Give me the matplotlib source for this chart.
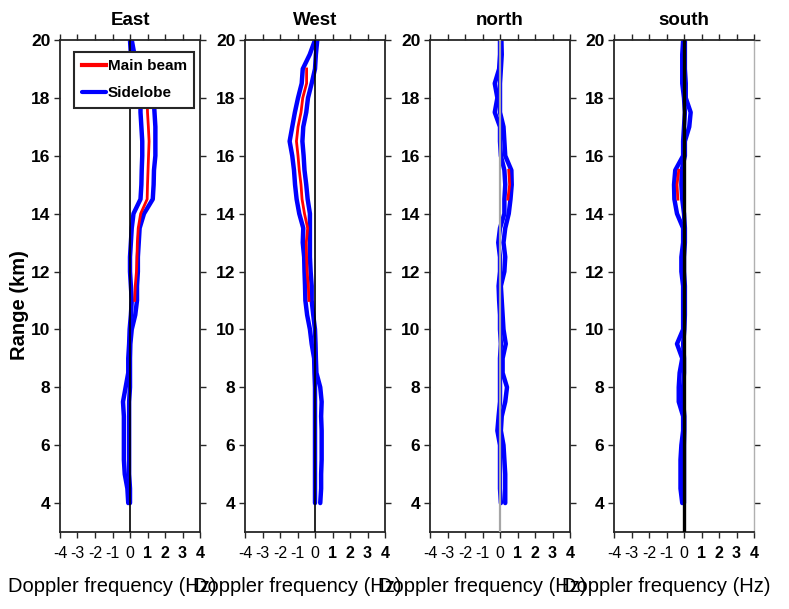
import matplotlib
matplotlib.use('Agg')
import matplotlib.pyplot as plt
import numpy as np

# ---------------- data ----------------
range_km = [4.0, 4.5, 5.0, 5.5, 6.0, 6.5, 7.0, 7.5, 8.0, 8.5, 9.0, 9.5, 10.0,
            10.5, 11.0, 11.5, 12.0, 12.5, 13.0, 13.5, 14.0, 14.5, 15.0, 15.5,
            16.0, 16.5, 17.0, 17.5, 18.0, 18.5, 19.0, 19.5, 20.0]
nan = float('nan')

panel_titles = ['East', 'West', 'north', 'south']
series_names = ['Main beam', 'Sidelobe']

east_side_lo = [-0.1, -0.15, -0.3, -0.35, -0.35, -0.35, -0.35, -0.4, -0.25, -0.1, -0.1, -0.05, -0.02,
                0.05, 0.1, 0.05, 0.0, 0.0, 0.05, 0.1, 0.2, 0.6, 0.65, 0.67,
                0.7, 0.7, 0.65, 0.6, 0.6, 0.4, 0.2, 0.05, 0.0]
east_side_hi = [0.0, 0.0, -0.05, -0.05, -0.05, -0.05, -0.05, -0.05, 0.0, 0.0, 0.0, 0.02, 0.1,
                0.3, 0.4, 0.4, 0.45, 0.45, 0.5, 0.55, 0.8, 1.3, 1.35, 1.37,
                1.45, 1.45, 1.45, 1.4, 1.35, 1.1, 0.7, 0.25, 0.1]
east_main = [nan, nan, nan, nan, nan, nan, nan, nan, nan, nan, nan, nan, nan,
             nan, 0.27, 0.3, 0.37, 0.4, 0.42, 0.47, 0.61, 0.98, 1.0, 1.03,
             1.06, 1.09, 1.05, 1.0, 0.98, 0.75, nan, nan, nan]

west_side_lo = [0.0, 0.0, 0.0, 0.0, 0.0, 0.0, 0.0, 0.0, 0.0, -0.03, -0.05, -0.19, -0.29,
                -0.45, -0.55, -0.57, -0.6, -0.62, -0.7, -0.67, -0.9, -1.05, -1.14, -1.2,
                -1.3, -1.45, -1.3, -1.15, -0.97, -0.76, -0.7, -0.3, 0.0]
west_side_hi = [0.3, 0.35, 0.35, 0.38, 0.38, 0.38, 0.35, 0.38, 0.3, 0.08, 0.05, 0.03, 0.0,
                -0.1, -0.19, -0.19, -0.25, -0.29, -0.29, -0.29, -0.29, -0.42, -0.5, -0.6,
                -0.65, -0.72, -0.67, -0.5, -0.4, -0.19, 0.0, 0.05, 0.13]
west_main = [nan, nan, nan, nan, nan, nan, nan, nan, nan, nan, nan, nan, nan,
             nan, -0.35, -0.38, -0.45, -0.48, -0.5, -0.42, -0.6, -0.74, -0.8, -0.9,
             -0.97, -1.06, -0.97, -0.8, -0.7, -0.48, -0.48, nan, nan]

north_side_lo = [0.05, 0.0, 0.0, 0.0, 0.0, -0.15, -0.08, 0.0, 0.0, 0.0, 0.0, 0.05, 0.0,
                 0.0, -0.05, -0.08, 0.0, 0.0, -0.1, 0.0, 0.25, 0.25, 0.3, 0.25,
                 0.05, 0.0, 0.0, -0.3, -0.15, -0.3, -0.05, 0.0, 0.0]
north_side_hi = [0.3, 0.3, 0.3, 0.25, 0.2, 0.05, 0.1, 0.3, 0.4, 0.15, 0.15, 0.33, 0.2,
                 0.15, 0.1, 0.05, 0.25, 0.3, 0.2, 0.3, 0.5, 0.6, 0.67, 0.65,
                 0.3, 0.25, 0.2, 0.0, 0.0, 0.0, 0.05, 0.1, 0.08]
north_main = [nan, nan, nan, nan, nan, nan, nan, nan, nan, nan, nan, nan, nan,
              nan, nan, nan, nan, nan, nan, nan, nan, 0.45, 0.55, 0.5,
              nan, nan, nan, nan, nan, nan, nan, nan, nan]

south_side_lo = [-0.1, -0.2, -0.2, -0.2, -0.15, -0.05, -0.05, -0.3, -0.3, -0.25, -0.1, -0.4, -0.05,
                 -0.05, -0.05, -0.05, -0.15, -0.15, -0.05, -0.05, -0.4, -0.55, -0.57, -0.5,
                 -0.05, -0.05, 0.0, 0.05, 0.0, -0.1, -0.1, -0.1, -0.05]
south_side_hi = [0.0, 0.0, 0.0, 0.0, 0.0, 0.02, 0.02, -0.05, -0.05, 0.0, 0.0, -0.05, 0.02,
                 0.05, 0.05, 0.05, 0.0, 0.0, 0.05, 0.05, 0.0, -0.1, -0.15, -0.13,
                 0.05, 0.05, 0.3, 0.38, 0.1, 0.1, 0.05, 0.05, 0.05]
south_main = [nan, nan, nan, nan, nan, nan, nan, nan, nan, nan, nan, nan, nan,
              nan, nan, nan, nan, nan, nan, nan, nan, -0.35, -0.4, -0.3,
              nan, nan, nan, nan, nan, nan, nan, nan, nan]

x_ticks = [-4, -3, -2, -1, 0, 1, 2, 3, 4]
y_ticks = [4, 6, 8, 10, 12, 14, 16, 18, 20]
x_label = 'Doppler frequency (Hz)'
y_label = 'Range (km)'

panels = [
    (east_side_lo, east_side_hi, east_main),
    (west_side_lo, west_side_hi, west_main),
    (north_side_lo, north_side_hi, north_main),
    (south_side_lo, south_side_hi, south_main),
]

# ---------------- style ----------------
FAM = ['Liberation Sans', 'DejaVu Sans']
plt.rcParams['font.family'] = FAM
W, H = 789, 609
fig = plt.figure(figsize=(W / 100, H / 100), dpi=100)
spine_col = '#262626'
lefts = [60, 245, 430, 614]
ax_w, ax_top, ax_bot = 140, 40, 532
zero_styles = [dict(color='black', lw=1.2), dict(color='black', lw=1.2),
               dict(color='#a6a6a6', lw=1.6), dict(color='black', lw=2.4)]

for i, (lo, hi, main) in enumerate(panels):
    ax = fig.add_axes([lefts[i] / W, 1 - ax_bot / H, ax_w / W, (ax_bot - ax_top) / H])
    ax.plot(lo, range_km, color=(0, 0, 1), lw=3.2, solid_capstyle='round',
            solid_joinstyle='round', zorder=2, label=series_names[1])
    ax.plot(hi, range_km, color=(0, 0, 1), lw=3.2, solid_capstyle='round',
            solid_joinstyle='round', zorder=2)
    ax.plot(main, range_km, color=(1, 0, 0), lw=2.0, zorder=3, label=series_names[0])
    ax.axvline(0, zorder=4, **zero_styles[i])
    ax.set_xlim(-4, 4)
    ax.set_ylim(3, 20)
    ax.set_xticks(x_ticks)
    ax.set_yticks(y_ticks)
    ax.set_yticklabels([str(v) for v in y_ticks], fontsize=12.5, fontweight='bold')
    ax.set_xticklabels([str(v) for v in x_ticks], fontsize=11.5)
    for lab, v in zip(ax.get_xticklabels(), x_ticks):
        lab.set_fontweight('bold' if v > 0 else 'normal')
    ax.tick_params(direction='out', length=4, width=1.0, colors=spine_col,
                   top=True, right=True, labeltop=False, labelright=False, pad=3)
    ax.tick_params(axis='x', pad=6)
    ax.tick_params(axis='both', labelcolor='black')
    for s in ax.spines.values():
        s.set_color(spine_col)
        s.set_linewidth(1.3)
    if i == 3:
        ax.spines['right'].set_color('#b0b0b0')
        ax.spines['right'].set_linewidth(1.0)
    ax.set_title(panel_titles[i], fontsize=13.5, fontweight='bold', pad=11)
    if i == 0:
        h, l = ax.get_legend_handles_labels()
        order = [l.index(series_names[0]), l.index(series_names[1])]
        leg = ax.legend([h[k] for k in order], [l[k] for k in order],
                        loc='upper left', bbox_to_anchor=(0.1, 0.976),
                        frameon=True, fancybox=False, framealpha=1,
                        edgecolor=spine_col, handlelength=1.6, handletextpad=0.1,
                        borderpad=0.5, labelspacing=0.85, borderaxespad=0,
                        prop=dict(family=FAM, size=11, weight='bold'))
        leg.get_frame().set_linewidth(1.5)
        for line in leg.get_lines():
            line.set_linewidth(3)
    fig.text((lefts[i] + ax_w / 2 - 18) / W, 1 - 586 / H, x_label,
             ha='center', va='center', fontsize=14.5)

fig.text(20 / W, 1 - 305 / H, y_label, rotation=90, ha='center', va='center',
         fontsize=14.5, fontweight='bold', family=FAM)

fig.savefig('out.png', dpi=100)
